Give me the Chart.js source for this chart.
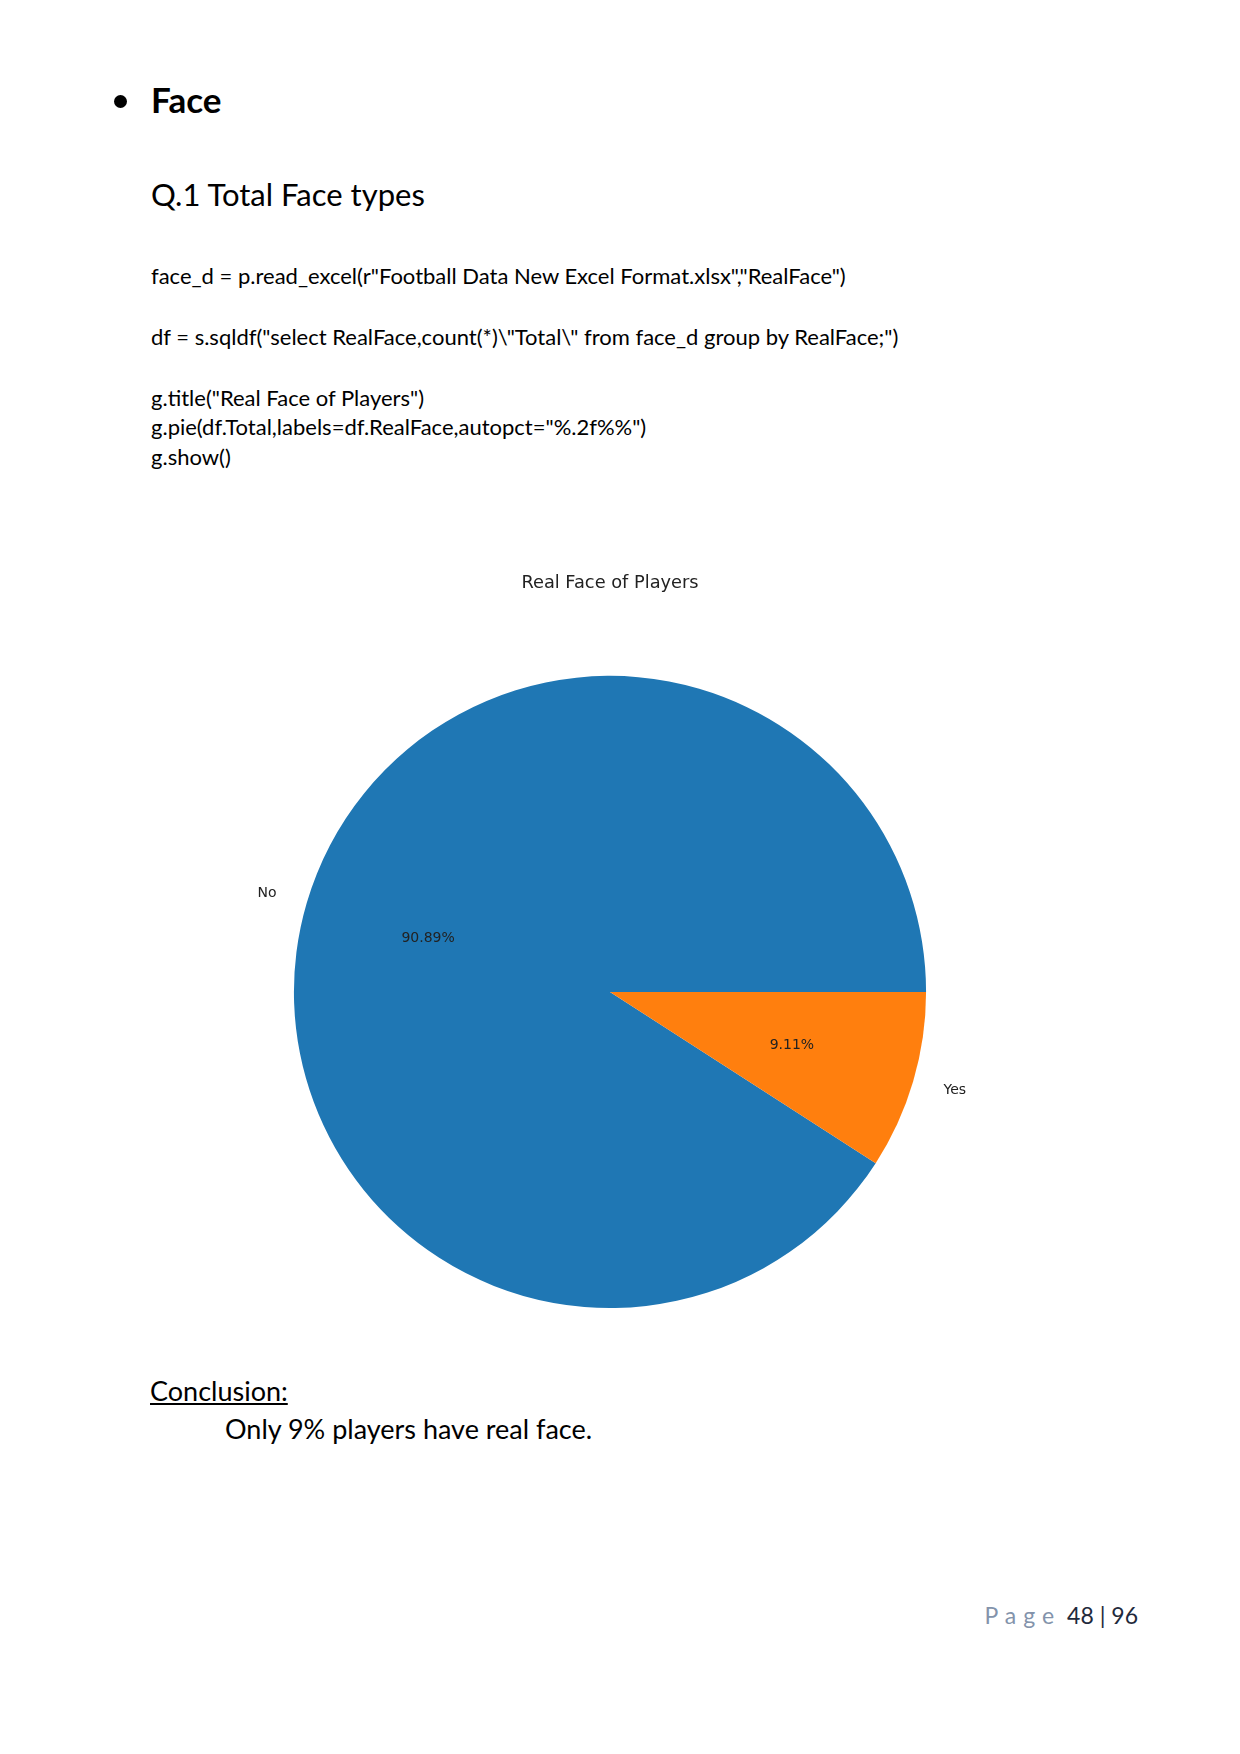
<!DOCTYPE html>
<html>
<head>
<meta charset="utf-8">
<script src="https://cdn.jsdelivr.net/npm/chart.js@4.4.0/dist/chart.umd.min.js"></script>
<style>
  body { margin: 0; background: #fff; }
  #pagina { position: relative; width: 1240px; height: 1754px; background: #fff; font-family: Lato, "Open Sans", sans-serif; color: #000; }
  .t { position: absolute; white-space: nowrap; line-height: 1.2; }
  #bolinha { position: absolute; left: 114px; top: 95px; width: 13px; height: 13px; border-radius: 50%; background: #000; }
  #grafico { position: absolute; left: 0; top: 560px; }
</style>
</head>
<body>
<div id="pagina">
  <div id="bolinha"></div>
  <div class="t" style="left:151px; top:78px; font-size:35px; font-weight:bold;">Face</div>
  <div class="t" style="left:151px; top:176px; font-size:31px;">Q.1 Total Face types</div>

  <div class="t" style="left:151px; top:263px; font-size:22px;">face_d = p.read_excel(r"Football Data New Excel Format.xlsx","RealFace")</div>
  <div class="t" style="left:151px; top:324px; font-size:22px;">df = s.sqldf("select RealFace,count(*)\"Total\" from face_d group by RealFace;")</div>
  <div class="t" style="left:151px; top:385px; font-size:22px;">g.title("Real Face of Players")</div>
  <div class="t" style="left:151px; top:414px; font-size:22px;">g.pie(df.Total,labels=df.RealFace,autopct="%.2f%%")</div>
  <div class="t" style="left:151px; top:444px; font-size:22px;">g.show()</div>

  <canvas id="grafico" width="1240" height="760"></canvas>

  <div class="t" style="left:150px; top:1375px; font-size:27px; text-decoration:underline;">Conclusion:</div>
  <div class="t" style="left:225px; top:1413px; font-size:27px;">Only 9% players have real face.</div>

  <div class="t" style="right:102px; top:1602px; font-size:23px;"><span style="color:#8393ab; letter-spacing:7px;">Page</span> <span style="color:#1f2a3c;">48 | 96</span></div>
</div>

<script>
// dados do grafico
const categorias = ["No", "Yes"];
const percentuais = [90.89, 9.11];
const cores = ["#1f77b4", "#ff7f0e"];

const total = percentuais.reduce((a, b) => a + b, 0);

// escreve o nome da fatia e o percentual, como o matplotlib faz
const rotulos = {
    id: "rotulos",
    afterDatasetsDraw(chart){
        const ctx = chart.ctx;
        const meta = chart.getDatasetMeta(0);
        ctx.save();
        ctx.font = "14px 'DejaVu Sans'";
        ctx.fillStyle = "#222";
        ctx.textBaseline = "middle";
        meta.data.forEach((arco, i) => {
            const p = arco.getProps(["x", "y", "startAngle", "endAngle", "outerRadius"], true);
            const meio = (p.startAngle + p.endAngle) / 2;
            const cx = Math.cos(meio), cy = Math.sin(meio);
            // nome fora da pizza
            ctx.textAlign = cx < 0 ? "right" : "left";
            ctx.fillText(categorias[i], p.x + cx * p.outerRadius * 1.1, p.y + cy * p.outerRadius * 1.1);
            // percentual dentro
            ctx.textAlign = "center";
            const pct = (percentuais[i] / total * 100).toFixed(2) + "%";
            ctx.fillText(pct, p.x + cx * p.outerRadius * 0.6, p.y + cy * p.outerRadius * 0.6);
        });
        ctx.restore();
    }
};

new Chart(document.getElementById("grafico"), {
    type: "pie",
    data: {
        labels: categorias,
        datasets: [{
            data: percentuais,
            backgroundColor: cores,
            borderWidth: 0
        }]
    },
    options: {
        responsive: false,
        animation: false,
        devicePixelRatio: 1,
        // primeira fatia comeca abaixo do eixo, igual ao matplotlib (sentido anti-horario)
        rotation: 90 + percentuais[1] / total * 360,
        layout: { padding: { left: 0, right: 20, top: 0, bottom: 12 } },
        plugins: {
            legend: { display: false },
            tooltip: { enabled: false },
            title: {
                display: true,
                text: "Real Face of Players",
                color: "#222",
                font: { family: "DejaVu Sans", size: 17.8, weight: "normal" },
                padding: { top: 12.5, bottom: 82 }
            }
        }
    },
    plugins: [rotulos]
});
</script>
</body>
</html>
